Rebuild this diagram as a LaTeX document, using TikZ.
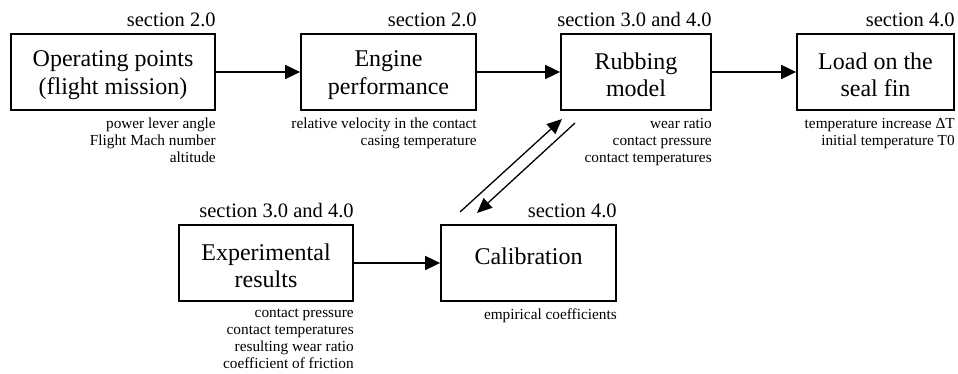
\documentclass[tikz,border=0pt]{standalone}
\usepackage{fontspec}
\setmainfont{Liberation Serif}
\usetikzlibrary{arrows.meta}
\tikzset{
  x=1pt, y=1pt,
  box/.style={draw, line width=1.8pt, minimum height=76pt, inner sep=0pt},
  btext/.style={inner sep=0pt, align=center, font=\fontsize{24}{27.5}\selectfont},
  sect/.style={anchor=base east, inner sep=0pt, font=\fontsize{20.5}{24}\selectfont},
  note/.style={anchor=north east, inner sep=0pt, align=right, font=\fontsize{15.3}{17}\selectfont},
  arr/.style={line width=1.8pt, -{Triangle[length=15pt,width=14pt]}},
  darr/.style={line width=1.3pt, -{Triangle[length=15pt,width=13pt]}}
}
\begin{document}
\begin{tikzpicture}
\useasboundingbox (0,0) rectangle (958,374);
% boxes
\node[box, minimum width=204pt] (b1) at (113,302) {};
\node[box, minimum width=175pt] (b2) at (388.5,302) {};
\node[box, minimum width=150pt] (b3) at (636,302) {};
\node[box, minimum width=157pt] (b4) at (875.5,302) {};
\node[box, minimum width=174pt] (b5) at (266,111) {};
\node[box, minimum width=175pt] (b6) at (528.5,111) {};
% box texts
\node[btext] (t1) at ([yshift=-3pt]b1.center) {Operating points\\(flight mission)};
\node[btext] (t2) at ([yshift=-3pt]b2.center) {Engine\\performance};
\node[btext] (t3) at ([yshift=-3pt]b3.center) {Rubbing\\model};
\node[btext] (t4) at ([yshift=-3pt]b4.center) {Load on the\\seal fin};
\node[btext] (t5) at ([yshift=-3pt]b5.center) {Experimental\\results};
\node[btext] (t6) at ([yshift=6.5pt]b6.center) {Calibration};
% section labels
\node[sect] (s1) at ([yshift=6.5pt]b1.north east) {section 2.0};
\node[sect] (s2) at ([yshift=6.5pt]b2.north east) {section 2.0};
\node[sect] (s3) at ([yshift=6.5pt]b3.north east) {section 3.0 and 4.0};
\node[sect] (s4) at ([yshift=6.5pt]b4.north east) {section 4.0};
\node[sect] (s5) at ([yshift=6.5pt]b5.north east) {section 3.0 and 4.0};
\node[sect] (s6) at ([yshift=6.5pt]b6.north east) {section 4.0};
% notes
\node[note] (n1) at ([yshift=-7pt]b1.south east) {power lever angle\\Flight Mach number\\altitude};
\node[note] (n2) at ([yshift=-7pt]b2.south east) {relative velocity in the contact\\casing temperature};
\node[note] (n3) at ([yshift=-7pt]b3.south east) {wear ratio\\contact pressure\\contact temperatures};
\node[note] (n4) at ([yshift=-7pt]b4.south east) {temperature increase ΔT\\initial temperature T0};
\node[note] (n5) at ([yshift=-7pt]b5.south east) {contact pressure\\contact temperatures\\resulting wear ratio\\coefficient of friction};
\node[note] (n6) at ([yshift=-7pt]b6.south east) {empirical coefficients};
% connectors
\draw[arr] (b1) -- (b2);
\draw[arr] (b2) -- (b3);
\draw[arr] (b3) -- (b4);
\draw[arr] (b5) -- (b6);
\coordinate (u1) at (460,162);
\coordinate (u2) at (562,255);
\coordinate (d1) at (575,251);
\coordinate (d2) at (477,161);
\draw[darr] (u1) -- (u2);
\draw[darr] (d1) -- (d2);
\end{tikzpicture}
\end{document}
